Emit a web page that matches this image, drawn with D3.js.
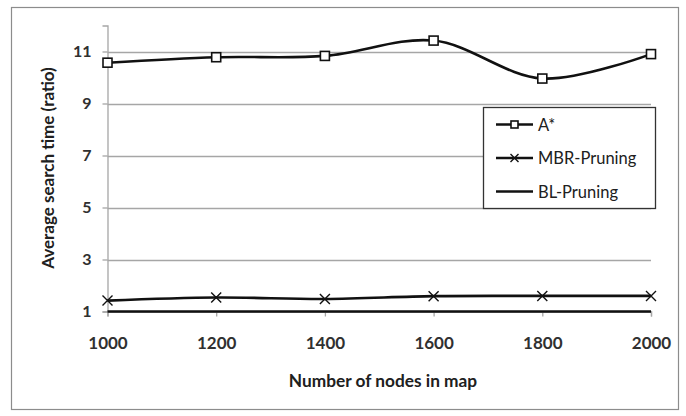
<!DOCTYPE html>
<html><head><meta charset="utf-8">
<script src="https://cdn.jsdelivr.net/npm/d3@7"></script>
<style>body{margin:0;background:#fff}svg{display:block}</style>
</head><body>
<svg id="c" width="686" height="416"></svg>
<script>
const categories = [1000, 1200, 1400, 1600, 1800, 2000];
const aStar = [10.57, 10.78, 10.83, 11.42, 9.96, 10.9];
const mbrPruning = [1.42, 1.54, 1.48, 1.59, 1.6, 1.6];
const blPruning = [1, 1, 1, 1, 1, 1];
const yTicks = [1, 3, 5, 7, 9, 11];
const seriesNames = ["A*", "MBR-Pruning", "BL-Pruning"];

const svg = d3.select("#c");
const FONT = "Lato, 'Open Sans', sans-serif";
svg.append("rect").attr("x", 11.5).attr("y", 7.5).attr("width", 667).attr("height", 402)
  .attr("fill", "#fff").attr("stroke", "#8c8c8c").attr("stroke-width", 1.2);

const x = d3.scalePoint().domain(categories).range([107.5, 651]);
const y = d3.scaleLinear().domain([1, 12]).range([311.5, 25.5]);

// gridlines
svg.append("g").selectAll("line").data(yTicks.filter(d => d !== 1)).join("line")
  .attr("x1", 107.5).attr("x2", 651).attr("y1", d => Math.round(y(d)) + 0.5).attr("y2", d => Math.round(y(d)) + 0.5)
  .attr("stroke", "#a6a6a6").attr("stroke-width", 1.3);

// y axis
const ya = svg.append("g").attr("transform", "translate(107.5,0)")
  .call(d3.axisLeft(y).tickValues(yTicks).tickSize(5).tickPadding(11).tickFormat(d3.format("d")));
ya.select(".domain").attr("stroke", "#a6a6a6").attr("stroke-width", 1.3);
ya.selectAll(".tick line").attr("stroke", "#a6a6a6").attr("stroke-width", 1.3);
ya.selectAll("text").attr("font-family", FONT).attr("font-size", 16).attr("font-weight", "bold").attr("fill", "#303030");

// x axis
const xa = svg.append("g").attr("transform", "translate(0,311.5)")
  .call(d3.axisBottom(x).tickSize(5).tickPadding(20));
xa.select(".domain").attr("stroke", "#a6a6a6").attr("stroke-width", 1.3);
xa.selectAll(".tick line").attr("stroke", "#a6a6a6").attr("stroke-width", 1.3);
xa.selectAll("text").attr("font-family", FONT).attr("font-size", 17).attr("font-weight", "bold").attr("fill", "#303030");

// axis titles
svg.append("text").attr("x", 383).attr("y", 387).attr("text-anchor", "middle")
  .attr("font-family", FONT).attr("font-size", 17.3).attr("font-weight", "bold").attr("fill", "#202020")
  .text("Number of nodes in map");
svg.append("text").attr("transform", "translate(54,168) rotate(-90)").attr("text-anchor", "middle")
  .attr("font-family", FONT).attr("font-size", 17).attr("font-weight", "bold").attr("fill", "#202020")
  .text("Average search time (ratio)");

const line = d3.line().x((d, i) => x(categories[i])).y(d => y(d)).curve(d3.curveCatmullRom.alpha(0.5));

function drawSeries(vals, marker) {
  svg.append("path").datum(vals).attr("d", line).attr("fill", "none")
    .attr("stroke", "#111").attr("stroke-width", 2.6);
  const g = svg.append("g");
  vals.forEach((v, i) => drawMarker(g, x(categories[i]), y(v), marker, 4.5));
}
function drawMarker(g, cx, cy, marker, r) {
  if (marker === "square") {
    g.append("rect").attr("x", cx - r).attr("y", cy - r).attr("width", 2 * r).attr("height", 2 * r)
      .attr("fill", "#fff").attr("stroke", "#111").attr("stroke-width", 1.6);
  } else if (marker === "x") {
    g.append("path").attr("d", `M${cx-r-0.5},${cy-r-0.5}L${cx+r+0.5},${cy+r+0.5}M${cx-r-0.5},${cy+r+0.5}L${cx+r+0.5},${cy-r-0.5}`)
      .attr("stroke", "#111").attr("stroke-width", 1.4);
  }
}
drawSeries(blPruning, null);
drawSeries(mbrPruning, "x");
drawSeries(aStar, "square");

// legend
const lg = svg.append("g");
lg.append("rect").attr("x", 483.5).attr("y", 107.5).attr("width", 172).attr("height", 101)
  .attr("fill", "#fff").attr("stroke", "#333").attr("stroke-width", 1.3);
const markers = ["square", "x", null];
seriesNames.forEach((n, i) => {
  const ly = 124.5 + i * 33.5;
  lg.append("line").attr("x1", 496).attr("x2", 533).attr("y1", ly).attr("y2", ly)
    .attr("stroke", "#111").attr("stroke-width", 2.4);
  drawMarker(lg, 514.5, ly, markers[i], 3.5);
  lg.append("text").attr("x", 538).attr("y", ly + 6).attr("font-family", FONT).attr("font-size", 16.5)
    .attr("fill", "#202020").text(n);
});
</script>
</body></html>
